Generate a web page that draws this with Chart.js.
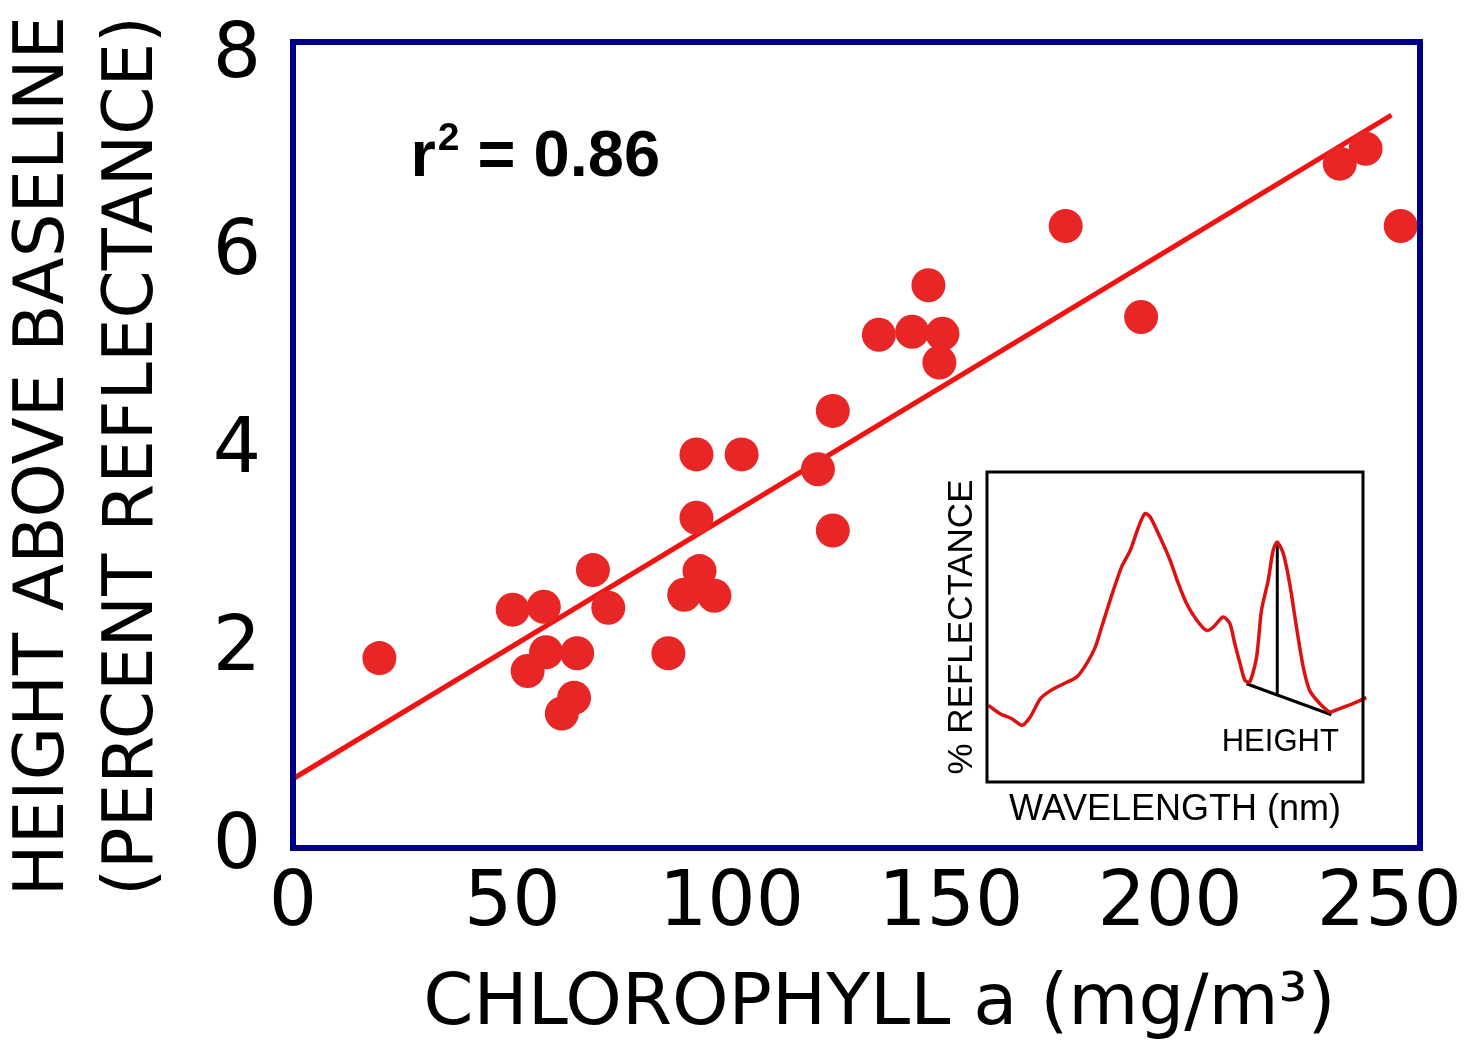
<!DOCTYPE html>
<html>
<head>
<meta charset="utf-8">
<script src="https://cdn.jsdelivr.net/npm/chart.js@4.4.1/dist/chart.umd.min.js"></script>
<style>
  html, body { margin: 0; padding: 0; background: #fff; }
  #wrap { position: relative; width: 1468px; height: 1048px; }
  #mainChart { position: absolute; left: 0; top: 0; }
  #insetChart { position: absolute; left: 930px; top: 440px; }
</style>
</head>
<body>
<div id="wrap">
  <canvas id="mainChart" width="1468" height="1048"></canvas>
  <canvas id="insetChart" width="460" height="400"></canvas>
</div>
<script>
// main scatter: chlorophyll a vs height above baseline
const chlorophyll = [19.7, 50.1, 57.2, 53.5, 57.7, 64.8, 61.3, 64.1, 68.4, 71.9,
  85.6, 89.2, 92.7, 96.1, 92.0, 92.0, 102.3, 119.7, 123.1, 123.1,
  133.6, 141.2, 144.9, 148.1, 147.4, 176.2, 193.4, 238.7, 244.6, 252.6];
const heightAboveBaseline = [1.92, 2.41, 2.44, 1.79, 1.98, 1.97, 1.36, 1.52, 2.81, 2.43,
  1.97, 2.56, 2.80, 2.55, 3.34, 3.98, 3.98, 3.83, 3.21, 4.42,
  5.19, 5.22, 5.69, 5.20, 4.91, 6.29, 5.37, 6.92, 7.07, 6.29];

// regression line end points
const fitX = [0, 250.5];
const fitY = [0.70, 7.41];
const rSquared = "0.86";

const xTicks = [0, 50, 100, 150, 200, 250];
const yTicks = [0, 2, 4, 6, 8];

// inset spectrum (relative units, 0-100 on both axes)
const wavelength = [0.4, 3.5, 6.6, 9.3, 11.5, 14.2, 16.8, 20.4, 23.9, 26.5,
  28.8, 30.5, 31.9, 33.6, 35.8, 38.1, 40.3, 42.0, 43.4, 46.0,
  48.7, 50.9, 53.1, 55.8, 58.4, 60.2, 62.8, 64.6, 65.9, 67.3,
  68.6, 69.9, 71.7, 73.0, 74.8, 76.1, 77.2, 78.8, 80.5, 82.3,
  84.1, 85.8, 88.5, 91.2, 93.8, 97.3, 100.9];
const reflectance = [24.7, 22.0, 20.4, 18.3, 21.0, 26.9, 29.4, 31.7, 33.9, 38.2,
  43.5, 50.0, 55.4, 61.8, 69.4, 74.7, 82.3, 86.6, 85.5, 79.0,
  71.5, 64.0, 57.5, 52.2, 48.9, 50.0, 53.2, 51.1, 44.6, 38.2,
  32.8, 32.3, 40.3, 55.4, 65.1, 74.7, 77.4, 73.7, 64.0, 50.0,
  37.1, 29.6, 25.3, 22.6, 23.7, 25.3, 27.2];
const baselineX = [69.0, 91.6];
const baselineY = [31.7, 21.7];
const peakX = [77.2, 77.2];
const peakY = [28.2, 77.4];

const framePlugin = {
  id: "frame",
  afterDatasetsDraw(chart, args, opts) {
    const a = chart.chartArea;
    const ctx = chart.ctx;
    ctx.save();
    ctx.strokeStyle = opts.color;
    ctx.lineWidth = opts.width;
    ctx.strokeRect(a.left, a.top, a.right - a.left, a.bottom - a.top);
    ctx.restore();
  }
};

const rSquaredPlugin = {
  id: "rsq",
  afterDraw(chart) {
    const ctx = chart.ctx;
    const x = chart.scales.x.getPixelForValue(26.8);
    const y = chart.scales.y.getPixelForValue(6.8);
    ctx.save();
    ctx.fillStyle = "#000";
    ctx.textBaseline = "alphabetic";
    ctx.textAlign = "left";
    ctx.font = "bold 65px 'Liberation Sans', Arial, sans-serif";
    ctx.fillText("r", x, y);
    let cx = x + ctx.measureText("r").width + 2;
    ctx.font = "bold 39px 'Liberation Sans', Arial, sans-serif";
    ctx.fillText("2", cx, y - 26);
    cx += ctx.measureText("2").width;
    ctx.font = "bold 65px 'Liberation Sans', Arial, sans-serif";
    ctx.fillText(" = " + rSquared, cx, y);
    ctx.restore();
  }
};

const heightLabelPlugin = {
  id: "heightLabel",
  afterDraw(chart) {
    const ctx = chart.ctx;
    ctx.save();
    ctx.fillStyle = "#000";
    ctx.font = "31px 'Liberation Sans', Arial, sans-serif";
    ctx.textAlign = "center";
    ctx.textBaseline = "middle";
    ctx.fillText("HEIGHT", chart.scales.x.getPixelForValue(78), chart.scales.y.getPixelForValue(12.9));
    ctx.restore();
  }
};

const mainFont = "'DejaVu Sans', Verdana, sans-serif";

new Chart(document.getElementById("mainChart"), {
  type: "scatter",
  data: {
    datasets: [
      {
        data: chlorophyll.map((c, i) => ({ x: c, y: heightAboveBaseline[i] })),
        backgroundColor: "#e82626",
        borderWidth: 0,
        pointRadius: 17,
        order: 1,
      },
      {
        type: "line",
        data: fitX.map((v, i) => ({ x: v, y: fitY[i] })),
        borderColor: "#f21212",
        borderWidth: 5,
        pointRadius: 0,
        order: 2,
      },
    ],
  },
  options: {
    responsive: false,
    animation: false,
    layout: { padding: { top: 42, right: 48, left: 0, bottom: 0 } },
    plugins: {
      legend: { display: false },
      tooltip: { enabled: false },
      frame: { color: "#000087", width: 6 },
    },
    scales: {
      x: {
        type: "linear",
        min: 0,
        max: 257,
        afterBuildTicks: (s) => { s.ticks = xTicks.map((v) => ({ value: v })); },
        afterFit: (s) => { s.height = 200; s.paddingLeft = 0; s.paddingRight = 0; },
        grid: { display: false },
        border: { display: false },
        ticks: { color: "#000", font: { family: mainFont, size: 76 }, padding: 4, maxRotation: 0, autoSkip: false },
        title: {
          display: true,
          text: "  CHLOROPHYLL a (mg/m³)",
          color: "#000",
          font: { family: mainFont, size: 72 },
          padding: { top: 0, bottom: 0 },
        },
      },
      y: {
        min: 0,
        max: 8.15,
        afterBuildTicks: (s) => { s.ticks = yTicks.map((v) => ({ value: v })); },
        afterFit: (s) => { s.width = 293; s.paddingTop = 0; s.paddingBottom = 0; },
        grid: { display: false },
        border: { display: false },
        ticks: { color: "#000", font: { family: mainFont, size: 76 }, padding: 24 },
        title: {
          display: true,
          text: ["HEIGHT ABOVE BASELINE ", "(PERCENT REFLECTANCE) "],
          color: "#000",
          font: { family: mainFont, size: 69, lineHeight: 1.3 },
          padding: { top: 0, bottom: 0 },
        },
      },
    },
  },
  plugins: [framePlugin, rSquaredPlugin],
});

const insetFont = "'Liberation Sans', Arial, sans-serif";

new Chart(document.getElementById("insetChart"), {
  type: "line",
  data: {
    datasets: [
      {
        data: wavelength.map((w, i) => ({ x: w, y: reflectance[i] })),
        borderColor: "#dd1111",
        borderWidth: 3.5,
        pointRadius: 0,
        tension: 0.25,
        clip: false,
      },
      {
        data: baselineX.map((v, i) => ({ x: v, y: baselineY[i] })),
        borderColor: "#000",
        borderWidth: 3,
        pointRadius: 0,
      },
      {
        data: peakX.map((v, i) => ({ x: v, y: peakY[i] })),
        borderColor: "#000",
        borderWidth: 3,
        pointRadius: 0,
      },
    ],
  },
  options: {
    responsive: false,
    animation: false,
    layout: { padding: { top: 32, right: 27, left: 0, bottom: 0 } },
    plugins: {
      legend: { display: false },
      tooltip: { enabled: false },
      frame: { color: "#000", width: 3 },
    },
    scales: {
      x: {
        type: "linear",
        min: 0,
        max: 100,
        afterFit: (s) => { s.height = 58; },
        grid: { display: false },
        border: { display: false },
        ticks: { display: false },
        title: {
          display: true,
          text: "WAVELENGTH (nm)",
          color: "#000",
          font: { family: insetFont, size: 36 },
          padding: { top: 0, bottom: 8 },
        },
      },
      y: {
        min: 0,
        max: 100,
        afterFit: (s) => { s.width = 57; },
        grid: { display: false },
        border: { display: false },
        ticks: { display: false },
        title: {
          display: true,
          text: "% REFLECTANCE",
          color: "#000",
          font: { family: insetFont, size: 35 },
          padding: { top: 11, bottom: 0 },
        },
      },
    },
  },
  plugins: [framePlugin, heightLabelPlugin],
});
</script>
</body>
</html>
